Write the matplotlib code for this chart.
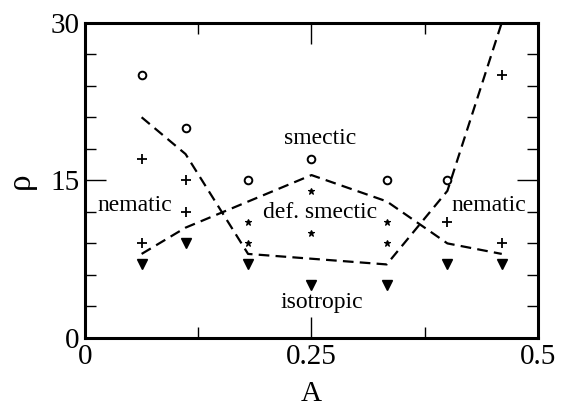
import matplotlib
matplotlib.use("Agg")
import matplotlib.pyplot as plt
from matplotlib.ticker import MultipleLocator

plt.rcParams['font.family'] = ['Liberation Serif', 'DejaVu Serif']

# anisotropy values at which the simulations were run
a_vals = [0.0625, 0.111, 0.18, 0.25, 0.333, 0.4, 0.46]

# smectic state points (open circles)
smectic_a = [0.0625, 0.111, 0.18, 0.25, 0.333, 0.4]
smectic_rho = [25, 20, 15, 17, 15, 15]

# nematic state points (plus)
nematic_a = [0.0625, 0.0625, 0.111, 0.111, 0.4, 0.46, 0.46]
nematic_rho = [17, 9, 15, 12, 11, 9, 25]

# defected smectic state points (stars)
defsm_a = [0.18, 0.18, 0.25, 0.25, 0.333, 0.333]
defsm_rho = [11, 9, 14, 10, 11, 9]

# isotropic state points (down triangles)
iso_a = a_vals
iso_rho = [7, 9, 7, 5, 5, 7, 7]

# phase boundaries
bound1_a = [0.0625, 0.111, 0.18, 0.333, 0.4, 0.46]
bound1_rho = [21, 17.5, 8, 7, 14, 30]
bound2_a = [0.0625, 0.111, 0.25, 0.333, 0.4, 0.46]
bound2_rho = [8, 10.5, 15.5, 13, 9, 8]

fig = plt.figure(figsize=(5.61, 4.07), dpi=100)
ax = fig.add_axes([0.1515, 0.1695, 0.8075, 0.7748])

dash = dict(color='black', lw=1.6, dashes=(4.8, 2.8))
ax.plot(bound1_a, bound1_rho, **dash)
ax.plot(bound2_a, bound2_rho, **dash)

ax.plot(smectic_a, smectic_rho, 'o', ms=5.5, mfc='white', mec='black', mew=1.4, ls='none')
ax.plot(nematic_a, nematic_rho, '+', ms=6.5, mec='black', mew=1.3, ls='none')
ax.plot(defsm_a, defsm_rho, '*', ms=5, mfc='black', mec='black', mew=0.8, ls='none')
ax.plot(iso_a, iso_rho, 'v', ms=7.5, mfc='black', mec='black', ls='none')

lab = dict(fontsize=17, ha='center', va='center')
ax.text(0.259, 19.0, 'smectic', **lab)
ax.text(0.055, 12.6, 'nematic', **lab)
ax.text(0.446, 12.6, 'nematic', **lab)
ax.text(0.260, 11.9, 'def. smectic', **lab)
ax.text(0.261, 3.4, 'isotropic', **lab)

ax.set_xlim(0, 0.5)
ax.set_ylim(0, 30)
ax.xaxis.set_minor_locator(MultipleLocator(0.125))
ax.yaxis.set_minor_locator(MultipleLocator(3))
ax.set_xticks([0, 0.25, 0.5])
ax.set_xticklabels(['0', '0.25', '0.5'])
ax.set_yticks([0, 15, 30])
ax.set_yticklabels(['0', '15', '30'])

ax.tick_params(which='both', direction='in', top=True, right=True, labelsize=21, width=1.0, pad=4)
ax.tick_params(which='major', length=15)
ax.tick_params(which='minor', length=8)
for s in ax.spines.values():
    s.set_linewidth(2.2)

ax.set_xlabel('A', fontsize=21, labelpad=8)
ax.set_ylabel('ρ', fontsize=24, labelpad=10)

fig.savefig('out.png', dpi=100)
